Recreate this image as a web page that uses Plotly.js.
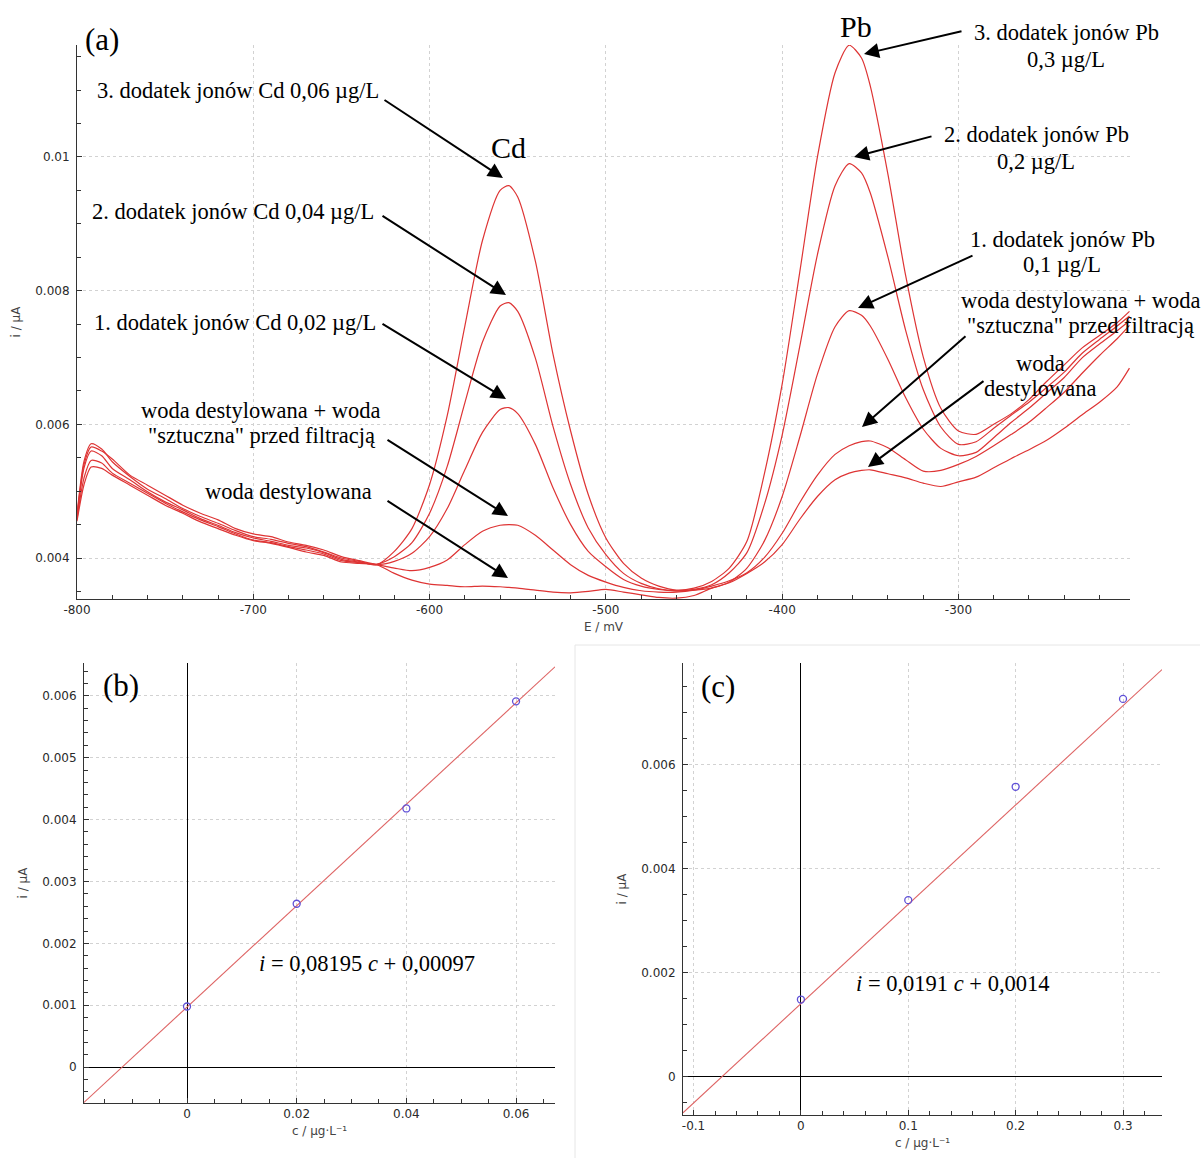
<!DOCTYPE html>
<html><head><meta charset="utf-8">
<script src="https://cdn.plot.ly/plotly-3.0.1.min.js"></script>
<style>html,body{margin:0;padding:0;background:#fff}#chart{width:1204px;height:1158px}</style>
</head><body><div id="chart"></div>
<script>
// ---------- Panel (a): voltammograms ----------
const E_mV = [-800,-796,-792,-786,-780,-770,-760,-750,-740,-730,-720,-710,-700,-690,-680,-670,-660,-650,-640,-630,
  -620,-610,-600,-590,-580,-570,-560,-555,-550,-540,-530,-520,-510,-500,-490,-480,-470,-460,-450,-440,-430,-420,-410,-400,
  -390,-380,-370,-362,-355,-350,-340,-330,-320,-310,-300,-290,-280,-270,-260,-250,-240,-230,-220,-210,-203];

const iWodaDest = [0.00455,0.0051,0.00536,0.00534,0.00524,0.00509,0.00494,0.00479,0.00467,0.00454,0.00444,0.00434,0.00426,0.00422,0.00416,0.00409,0.00404,0.00394,0.00392,0.0039,
  0.00377,0.00367,0.00361,0.00359,0.00357,0.00358,0.00357,0.00356,0.00355,0.00352,0.00349,0.00348,0.0035,0.00353,0.00349,0.00345,0.00341,0.0034,0.00344,0.00355,0.00363,0.00377,0.00394,0.0042,
  0.00458,0.00492,0.00517,0.00527,0.00531,0.00532,0.00526,0.0052,0.00512,0.00507,0.00514,0.00521,0.00535,0.00549,0.00562,0.00576,0.00594,0.00614,0.00633,0.00656,0.00684];

const iWodaSztuczna = [0.00458,0.0052,0.00546,0.00542,0.00527,0.00512,0.00497,0.00482,0.00469,0.00457,0.00447,0.00436,0.00427,0.00423,0.00417,0.00412,0.00406,0.00396,0.00393,0.0039,
  0.00385,0.00381,0.00386,0.00397,0.0042,0.0044,0.00449,0.0045,0.00449,0.00434,0.00412,0.0039,0.00374,0.00364,0.00356,0.00351,0.00349,0.00349,0.00352,0.00358,0.00366,0.00378,0.00401,0.00437,
  0.00483,0.00524,0.00555,0.00568,0.00574,0.00575,0.00565,0.00547,0.0053,0.00531,0.0054,0.00552,0.00568,0.00585,0.00603,0.00625,0.00648,0.00676,0.00703,0.00728,0.00748];

const iDodatek1 = [0.0046,0.00535,0.0056,0.00553,0.00534,0.00517,0.00499,0.00484,0.00472,0.00459,0.00449,0.00438,0.0043,0.00425,0.00419,0.00415,0.00408,0.00398,0.00394,0.0039,
  0.00395,0.00407,0.00432,0.00474,0.00532,0.00588,0.00622,0.00625,0.00616,0.0057,0.00505,0.0045,0.0041,0.00387,0.00368,0.00358,0.00353,0.00351,0.00352,0.00355,0.00364,0.00385,0.00426,0.00492,
  0.00581,0.00675,0.00746,0.0077,0.00763,0.00747,0.00697,0.0064,0.00593,0.00564,0.00553,0.00558,0.0058,0.00603,0.00624,0.00647,0.0067,0.00699,0.0072,0.0074,0.00755];

const iDodatek2 = [0.00462,0.0054,0.00566,0.0056,0.00548,0.00524,0.00509,0.00494,0.00479,0.00467,0.00457,0.00444,0.00436,0.00432,0.00424,0.00419,0.00412,0.00402,0.00396,0.00391,
  0.00402,0.00423,0.00467,0.00537,0.00632,0.00723,0.00777,0.00782,0.00769,0.00699,0.00597,0.0051,0.00445,0.00405,0.00377,0.00362,0.00354,0.00351,0.00353,0.0036,0.00378,0.00408,0.00481,0.00584,
  0.00717,0.00854,0.00957,0.0099,0.00976,0.00946,0.0085,0.00741,0.00652,0.00596,0.0057,0.00574,0.00594,0.00614,0.00633,0.00655,0.00678,0.00706,0.00727,0.00747,0.00762];

const iDodatek3 = [0.00465,0.00545,0.00571,0.00563,0.00544,0.00522,0.00503,0.00489,0.00474,0.00462,0.00452,0.00441,0.00432,0.00428,0.00422,0.00417,0.00409,0.004,0.00395,0.0039,
  0.0041,0.00444,0.0051,0.00613,0.00747,0.00875,0.0095,0.00957,0.0094,0.00844,0.00705,0.0059,0.00495,0.0043,0.00392,0.0037,0.00358,0.00352,0.00355,0.00365,0.00385,0.00425,0.00527,0.0066,
  0.00828,0.01,0.01126,0.01167,0.01148,0.01106,0.00974,0.00823,0.00701,0.00624,0.0059,0.00585,0.006,0.00616,0.00637,0.00664,0.00689,0.00714,0.00733,0.00752,0.00769];

const eTickVals = [-800,-700,-600,-500,-400,-300];
const eTickText = ['-800','-700','-600','-500','-400','-300'];

// ---------- Panel (b): Cd calibration ----------
const cdConc = [0, 0.02, 0.04, 0.06];
const cdCurrent = [0.00098, 0.00264, 0.00418, 0.00591];
const cdSlope = 0.08195, cdIntercept = 0.00097;

// ---------- Panel (c): Pb calibration ----------
const pbConc = [0, 0.1, 0.2, 0.3];
const pbCurrent = [0.00148, 0.00339, 0.00557, 0.00726];
const pbSlope = 0.0191, pbIntercept = 0.0014;
const pbTickVals = [-0.1, 0, 0.1, 0.2, 0.3];
const pbTickText = ['-0.1', '0', '0.1', '0.2', '0.3'];

// ---------- layout helpers ----------
const W = 1204, H = 1158;
const PX = x => x / W, PY = y => 1 - y / H;
const rangeA_x = [-800, -202.7], rangeA_y = [0.003387, 0.011674];
const rangeB_x = [-0.01878, 0.0671], rangeB_y = [-0.000579, 0.00653];
const rangeC_x = [-0.1098, 0.3363], rangeC_y = [-0.00074, 0.00795];

const tickFont = {family: 'DejaVu Sans, Verdana, sans-serif', size: 12, color: '#2a2a2a'};
const axTitleFont = {family: 'DejaVu Sans, Verdana, sans-serif', size: 12, color: '#444'};
const serif = 'Liberation Serif, Times New Roman, serif';
const curveColor = 'rgb(222,52,52)';

function ax(extra) {
  return Object.assign({
    showline: true, linecolor: '#333', linewidth: 1,
    ticks: 'inside', ticklen: 5, tickcolor: '#333', tickfont: tickFont,
    showgrid: true, gridcolor: '#d2d2d2', griddash: 'dot', gridwidth: 1,
    zeroline: false, fixedrange: true, automargin: false
  }, extra);
}
function minor(dt) { return {dtick: dt, ticklen: 4, tickcolor: '#333', showgrid: false, ticks: 'inside'}; }

const curves = [iWodaDest, iWodaSztuczna, iDodatek1, iDodatek2, iDodatek3];
const traces = curves.map(arr => ({
  x: E_mV, y: arr, xaxis: 'x', yaxis: 'y', type: 'scatter', mode: 'lines',
  line: {color: curveColor, width: 1.2, shape: 'spline', smoothing: 0.7}, hoverinfo: 'skip'
}));

traces.push({
  x: rangeB_x, y: rangeB_x.map(c => cdSlope * c + cdIntercept), xaxis: 'x2', yaxis: 'y2',
  type: 'scatter', mode: 'lines', line: {color: 'rgb(222,100,100)', width: 1.1}
});
traces.push({
  x: cdConc, y: cdCurrent, xaxis: 'x2', yaxis: 'y2', type: 'scatter', mode: 'markers',
  marker: {symbol: 'circle-open', size: 7, color: 'rgb(95,80,215)', line: {width: 1.3}}
});
traces.push({
  x: rangeC_x, y: rangeC_x.map(c => pbSlope * c + pbIntercept), xaxis: 'x3', yaxis: 'y3',
  type: 'scatter', mode: 'lines', line: {color: 'rgb(222,100,100)', width: 1.1}
});
traces.push({
  x: pbConc, y: pbCurrent, xaxis: 'x3', yaxis: 'y3', type: 'scatter', mode: 'markers',
  marker: {symbol: 'circle-open', size: 7, color: 'rgb(95,80,215)', line: {width: 1.3}}
});

function txt(text, x, y, size, opts) {
  return Object.assign({xref: 'paper', yref: 'paper', x: PX(x), y: PY(y), text: text, showarrow: false,
    font: {family: serif, size: size, color: '#000'}, xanchor: 'center', yanchor: 'middle', align: 'center'}, opts || {});
}
function arrow(tipX, tipY, tailX, tailY) {
  return {xref: 'paper', yref: 'paper', x: PX(tipX), y: PY(tipY), ax: tailX - tipX, ay: tailY - tipY,
    text: '', showarrow: true, arrowhead: 2, arrowsize: 1.5, arrowwidth: 2, arrowcolor: '#000', standoff: 0};
}

const annotations = [
  txt('(a)', 102, 39, 31),
  txt('Cd', 508, 148, 30),
  txt('Pb', 856, 27, 30),
  txt('3. dodatek jonów Cd 0,06 µg/L', 381, 91, 22.5, {xanchor: 'right'}),
  txt('2. dodatek jonów Cd 0,04 µg/L', 376, 211, 22.5, {xanchor: 'right'}),
  txt('1. dodatek jonów Cd 0,02 µg/L', 378, 322, 22.5, {xanchor: 'right'}),
  txt('woda destylowana + woda', 261, 410, 22.5),
  txt('"sztuczna" przed filtracją', 262, 436, 22.5),
  txt('woda destylowana', 374, 491, 22.5, {xanchor: 'right'}),
  txt('3. dodatek jonów Pb', 1066, 33, 22.5),
  txt('0,3 µg/L', 1066, 59, 22.5),
  txt('2. dodatek jonów Pb', 1036, 134, 22.5),
  txt('0,2 µg/L', 1036, 161, 22.5),
  txt('1. dodatek jonów Pb', 1062, 239, 22.5),
  txt('0,1 µg/L', 1062, 265, 22.5),
  txt('woda destylowana + woda', 1081, 300, 22.5),
  txt('"sztuczna" przed filtracją', 1081, 325, 22.5),
  txt('woda', 1040, 364, 22.5),
  txt('destylowana', 1040, 389, 22.5),
  arrow(503, 178, 383, 99),
  arrow(506, 295, 381, 215),
  arrow(506, 399, 381, 323),
  arrow(508, 516, 386, 439),
  arrow(508, 578, 386, 500),
  arrow(864, 54, 963, 31),
  arrow(854, 157, 933, 136),
  arrow(858, 308, 974, 255),
  arrow(862, 427, 967, 335),
  arrow(868, 467, 985, 380),
  txt('(b)', 121, 685, 31),
  txt('(c)', 718, 686, 31),
  txt('<i>i</i> = 0,08195 <i>c</i> + 0,00097', 367, 963, 22.5),
  txt('<i>i</i> = 0,0191 <i>c</i> + 0,0014', 953, 983, 22.5)
];

const layout = {
  width: W, height: H, margin: {l: 0, r: 0, t: 0, b: 0},
  paper_bgcolor: '#fff', plot_bgcolor: '#fff', showlegend: false,
  xaxis: ax({domain: [PX(77), PX(1130)], range: rangeA_x, anchor: 'y', tickmode: 'array',
    tickvals: eTickVals, ticktext: eTickText, minor: minor(20),
    title: {text: 'E / mV', font: axTitleFont, standoff: 6}}),
  yaxis: ax({domain: [PY(599), PY(45)], range: rangeA_y, anchor: 'x', tick0: 0, dtick: 0.002,
    minor: minor(0.0005), ticklabelstandoff: 4,
    title: {text: 'i / µA', font: axTitleFont, standoff: 12}}),
  xaxis2: ax({domain: [PX(84), PX(555)], range: rangeB_x, anchor: 'y2', tick0: 0, dtick: 0.02,
    minor: minor(0.005), zeroline: true, zerolinecolor: '#000', zerolinewidth: 1,
    title: {text: 'c / µg·L⁻¹', font: axTitleFont, standoff: 6}}),
  yaxis2: ax({domain: [PY(1103), PY(663)], range: rangeB_y, anchor: 'x2', tick0: 0, dtick: 0.001,
    minor: minor(0.0002), zeroline: true, zerolinecolor: '#000', zerolinewidth: 1, ticklabelstandoff: 4,
    title: {text: 'i / µA', font: axTitleFont, standoff: 12}}),
  xaxis3: ax({domain: [PX(683), PX(1162)], range: rangeC_x, anchor: 'y3', tickmode: 'array',
    tickvals: pbTickVals, ticktext: pbTickText, minor: minor(0.02), zeroline: true, zerolinecolor: '#000', zerolinewidth: 1,
    title: {text: 'c / µg·L⁻¹', font: axTitleFont, standoff: 6}}),
  yaxis3: ax({domain: [PY(1115), PY(663)], range: rangeC_y, anchor: 'x3', tick0: 0, dtick: 0.002,
    minor: minor(0.0005), zeroline: true, zerolinecolor: '#000', zerolinewidth: 1, ticklabelstandoff: 4,
    title: {text: 'i / µA', font: axTitleFont, standoff: 12}}),
  annotations: annotations,
  shapes: [
    {type: 'line', xref: 'paper', yref: 'paper', x0: PX(575), y0: PY(645), x1: PX(1200), y1: PY(645), line: {color: '#e6e6e6', width: 1}},
    {type: 'line', xref: 'paper', yref: 'paper', x0: PX(575), y0: PY(645), x1: PX(575), y1: PY(1158), line: {color: '#e6e6e6', width: 1}}
  ]
};

Plotly.newPlot('chart', traces, layout, {displayModeBar: false, staticPlot: true});
</script>
</body></html>
